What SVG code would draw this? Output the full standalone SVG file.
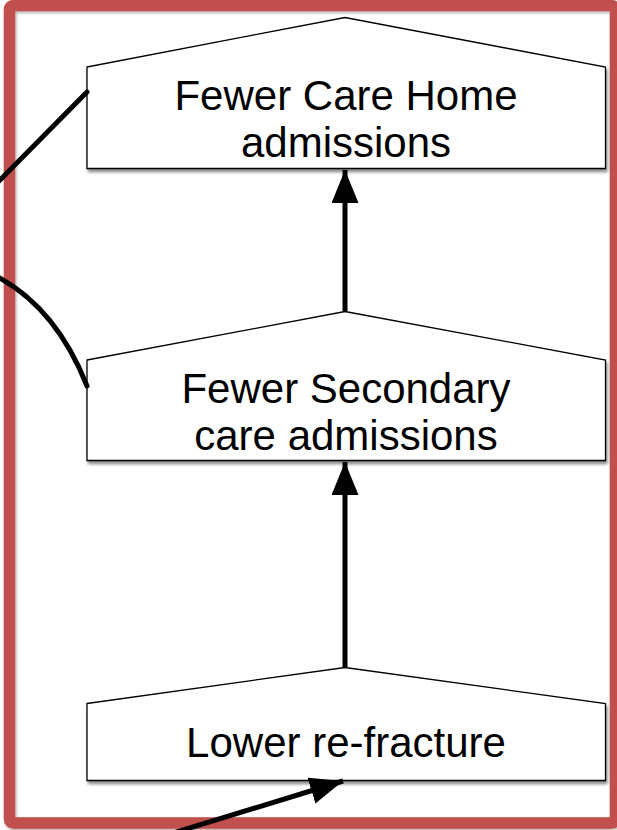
<svg xmlns="http://www.w3.org/2000/svg" width="617" height="830" viewBox="0 0 617 830">
  <defs>
    <filter id="shadow" x="-10%" y="-10%" width="120%" height="130%">
      <feDropShadow dx="1.5" dy="3" stdDeviation="1.8" flood-color="#000" flood-opacity="0.45"/>
    </filter>
    <filter id="frameShadow" x="-5%" y="-5%" width="110%" height="110%">
      <feDropShadow dx="1" dy="1.5" stdDeviation="1.5" flood-color="#000" flood-opacity="0.35"/>
    </filter>
    <marker id="arrow" markerUnits="userSpaceOnUse" markerWidth="34" markerHeight="28" refX="33" refY="13.5" orient="auto">
      <path d="M0,0 L33,13.5 L0,27 Z" fill="#000"/>
    </marker>
  </defs>
  <style>
    .node { fill: #fff; stroke: #000; stroke-width: 1.3; filter: url(#shadow); }
    .label { font-family: "Liberation Sans", Arial, sans-serif; font-size: 42px; fill: #000; text-anchor: middle; }
    .edge { fill: none; stroke: #000; stroke-width: 5; }
  </style>

  <rect width="617" height="830" fill="#fff"/>

  <!-- outer frame -->
  <rect x="9.5" y="5.5" width="606" height="817.5" rx="4" fill="none" stroke="#C0504D" stroke-width="11.5" filter="url(#frameShadow)"/>

  <!-- outcome nodes -->
  <g id="care-home">
    <path class="node" d="M87,67 L345,17.5 L605.5,67 L605.5,168.5 L87,168.5 Z"/>
    <text class="label" x="346" y="110">Fewer Care Home</text>
    <text class="label" x="346" y="156.5">admissions</text>
  </g>

  <g id="secondary-care">
    <path class="node" d="M87,360 L345,311.5 L605.5,360 L605.5,460.5 L87,460.5 Z"/>
    <text class="label" x="346" y="403">Fewer Secondary</text>
    <text class="label" x="346" y="449.5">care admissions</text>
  </g>

  <g id="re-fracture">
    <path class="node" d="M87,703.5 L345,667.5 L605.5,703.5 L605.5,780.5 L87,780.5 Z"/>
    <text class="label" x="346" y="757">Lower re-fracture</text>
  </g>

  <!-- connectors -->
  <g id="connectors">
    <line class="edge" x1="345" y1="311" x2="345" y2="170" marker-end="url(#arrow)"/>
    <line class="edge" x1="345" y1="667" x2="345" y2="462" marker-end="url(#arrow)"/>
    <line class="edge" x1="170" y1="834" x2="343" y2="781" marker-end="url(#arrow)"/>
    <line class="edge" x1="-6" y1="186" x2="87" y2="92" stroke-linecap="round"/>
    <path class="edge" d="M-8,274 Q55,305 87,386" stroke-linecap="round"/>
  </g>
</svg>
